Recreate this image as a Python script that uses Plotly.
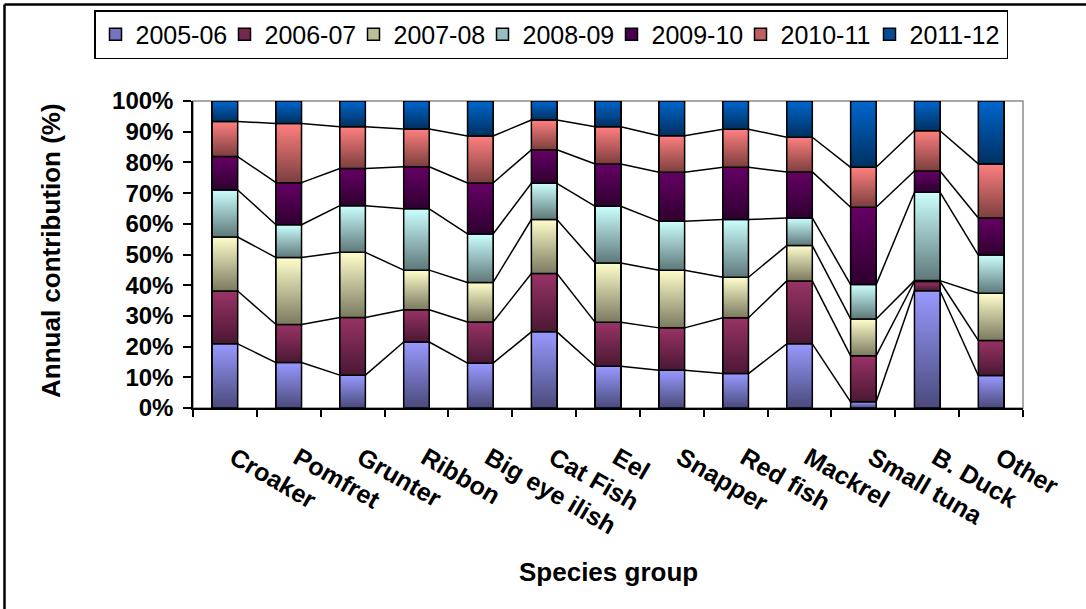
import plotly.graph_objects as go

# ---------------- data ----------------
categories = ["Croaker", "Pomfret", "Grunter", "Ribbon", "Big eye ilish", "Cat Fish",
              "Eel", "Snapper", "Red fish", "Mackrel", "Small tuna", "B. Duck", "Other"]

y2005_06 = [20.9, 14.8, 10.7, 21.5, 14.6, 24.8, 13.6, 12.3, 11.2, 20.9, 2.0, 38.2, 10.6]
y2006_07 = [17.2, 12.4, 18.8, 10.5, 13.4, 19.0, 14.3, 13.8, 18.2, 20.5, 15.0, 3.0, 11.4]
y2007_08 = [17.6, 21.8, 21.2, 12.9, 12.9, 17.6, 19.3, 18.8, 13.2, 11.5, 12.0, 0.3, 15.4]
y2008_09 = [15.3, 10.7, 15.2, 20.0, 15.8, 11.8, 18.5, 15.9, 18.8, 9.0, 11.2, 28.8, 12.4]
y2009_10 = [10.9, 13.7, 12.1, 13.7, 16.6, 10.9, 13.8, 16.0, 17.0, 15.0, 25.2, 6.9, 12.1]
y2010_11 = [11.4, 19.3, 13.6, 12.3, 15.3, 9.7, 12.1, 11.9, 12.4, 11.3, 13.0, 13.1, 17.6]
y2011_12 = [6.7, 7.3, 8.4, 9.1, 11.4, 6.2, 8.4, 11.3, 9.2, 11.8, 21.6, 9.7, 20.5]

series_names = ["2005-06", "2006-07", "2007-08", "2008-09", "2009-10", "2010-11", "2011-12"]
series_values = [y2005_06, y2006_07, y2007_08, y2008_09, y2009_10, y2010_11, y2011_12]

y_ticks = [0, 10, 20, 30, 40, 50, 60, 70, 80, 90, 100]

# ---------------- styles ----------------
light = ["#9999FF", "#993366", "#FFFFCC", "#CCFFFF", "#660066", "#FF8080", "#0066CC"]
dark = ["#4A4A7C", "#4A1832", "#7A7A60", "#5E7878", "#2E002E", "#7C3E3E", "#003060"]
mid = ["#7474C0", "#75284E", "#BDBD98", "#97BDBD", "#4A004A", "#BF6060", "#004C99"]

BAR_W = 0.4
FONT = "Liberation Sans, Arial, sans-serif"

n = len(categories)
x_idx = list(range(n))

# normalise to 100 %
totals = [sum(s[i] for s in series_values) for i in range(n)]
pct = [[s[i] / totals[i] * 100 for i in range(n)] for s in series_values]

fig = go.Figure()

# real stacked bars (solid mid colours, also give the legend)
for k, name in enumerate(series_names):
    fig.add_trace(go.Bar(
        x=x_idx, y=pct[k], name=name, width=BAR_W,
        marker=dict(color=mid[k], line=dict(color="black", width=1.5)),
        legendwidth=(84 if k < len(series_names) - 1 else 92),
        hoverinfo="skip",
    ))

# gradient overlay for each stacked segment
cum_prev = [0.0] * n
cum_tops = []
for k in range(len(series_names)):
    tops = [cum_prev[i] + pct[k][i] for i in range(n)]
    cum_tops.append(tops)
    for i in range(n):
        x0, x1 = i - BAR_W / 2, i + BAR_W / 2
        b, t = cum_prev[i], tops[i]
        if t - b <= 0:
            continue
        fig.add_trace(go.Scatter(
            x=[x0, x1, x1, x0, x0], y=[b, b, t, t, b],
            mode="lines", fill="toself",
            fillgradient=dict(type="vertical",
                              colorscale=[[0, dark[k]], [1, light[k]]]),
            line=dict(color="black", width=1.5),
            showlegend=False, hoverinfo="skip",
        ))
    cum_prev = tops

# series lines connecting the segment tops between neighbouring bars
for k in range(len(series_names) - 1):
    xs, ys = [], []
    for i in range(n - 1):
        xs += [i + BAR_W / 2, i + 1 - BAR_W / 2, None]
        ys += [cum_tops[k][i], cum_tops[k][i + 1], None]
    fig.add_trace(go.Scatter(x=xs, y=ys, mode="lines",
                             line=dict(color="black", width=1.5),
                             showlegend=False, hoverinfo="skip"))

# ---------------- layout ----------------
L, R, T, B = 193, 63, 101, 201
W, H = 1086, 609
pw, ph = W - L - R, H - T - B


def px_x(p):
    return (p - L) / pw


def px_y(p):
    return (H - B - p) / ph


fig.update_layout(
    width=W, height=H,
    margin=dict(l=L, r=R, t=T, b=B, autoexpand=False),
    barmode="stack",
    paper_bgcolor="white", plot_bgcolor="white",
    font=dict(family=FONT, color="black"),
    showlegend=True,
    legend=dict(orientation="h", x=px_x(94), xanchor="left", y=px_y(10), yanchor="top",
                bordercolor="black", borderwidth=1.5, bgcolor="white",
                font=dict(size=25, family=FONT), entrywidthmode="pixels",
                traceorder="normal", itemclick=False),
    xaxis=dict(range=[-0.5, n - 0.5], tickmode="array", tickvals=x_idx,
               ticktext=categories, ticks="", tickangle=30,
               tickfont=dict(size=25, family=FONT, weight="bold"),
               showline=True, linecolor="black", linewidth=1.5,
               showgrid=False, zeroline=False, ticklabelstandoff=24,
               ticklabelshift=9,
               minor=dict(tickmode="array",
                          tickvals=[i - 0.5 for i in range(n + 1)],
                          ticks="outside", ticklen=7, tickcolor="black",
                          tickwidth=1.5, showgrid=False)),
    yaxis=dict(range=[0, 100], tickmode="array", tickvals=y_ticks,
               ticktext=[f"{v}%" for v in y_ticks], ticks="outside", ticklen=8,
               tickwidth=1.5, tickcolor="black",
               tickfont=dict(size=24, family=FONT, weight="bold"),
               showline=True, linecolor="black", linewidth=1.5,
               showgrid=False, zeroline=False, ticklabelstandoff=5),
    annotations=[
        dict(text="Annual contribution (%)", textangle=-90, xref="paper", yref="paper",
             x=px_x(51), y=px_y(251), xanchor="center", yanchor="middle",
             showarrow=False, font=dict(size=26, family=FONT, weight="bold")),
        dict(text="Species group", xref="paper", yref="paper",
             x=0.5, y=px_y(572), xanchor="center", yanchor="middle",
             showarrow=False, font=dict(size=26, family=FONT, weight="bold")),
    ],
    shapes=[
        # grey plot-area frame
        dict(type="rect", xref="paper", yref="paper", x0=0, x1=1, y0=0, y1=1,
             line=dict(color="#8C8C8C", width=1.5), layer="below"),
        # outer chart border (top and left)
        dict(type="line", xref="paper", yref="paper", x0=px_x(4.5), x1=px_x(1095),
             y0=px_y(4.5), y1=px_y(4.5), line=dict(color="black", width=2.5)),
        dict(type="line", xref="paper", yref="paper", x0=px_x(4.5), x1=px_x(4.5),
             y0=px_y(4.5), y1=px_y(620), line=dict(color="black", width=2.5)),
    ],
)

fig.write_html("out.html")
